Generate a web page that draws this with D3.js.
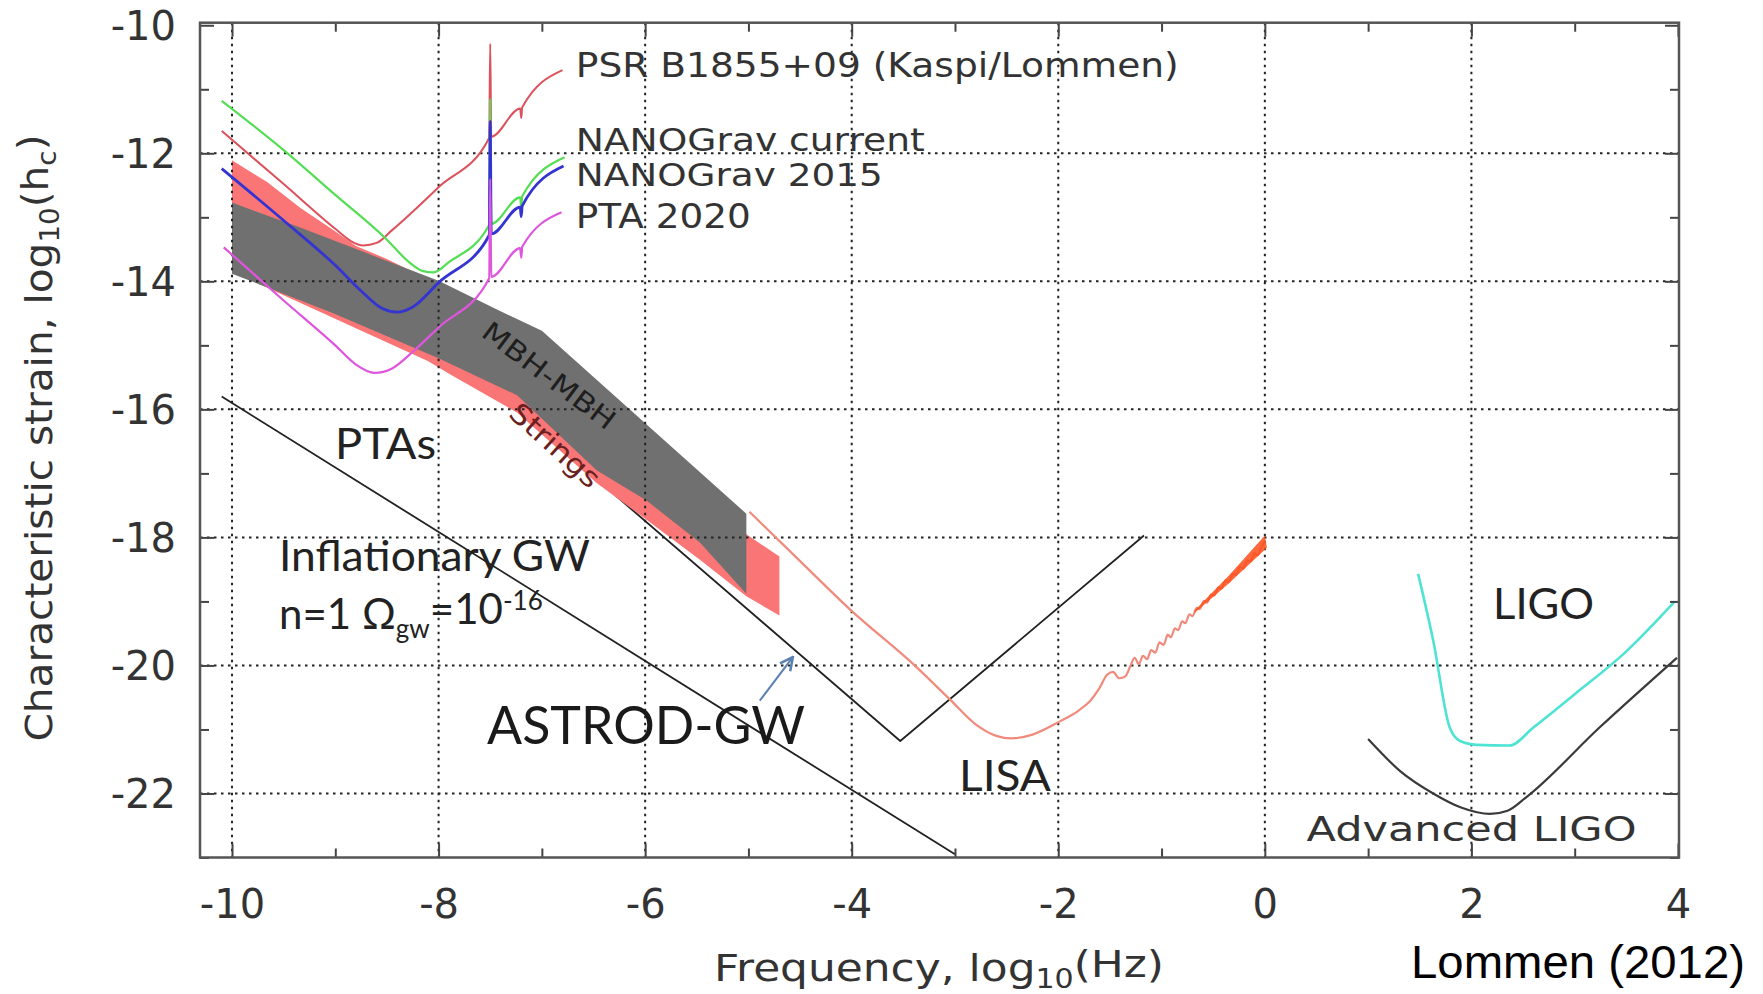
<!DOCTYPE html>
<html>
<head>
<meta charset="utf-8">
<script src="https://cdn.jsdelivr.net/npm/d3@7"></script>
<style>
  body { margin: 0; background: #fff; }
  svg { display: block; }
</style>
</head>
<body>
<div id="container"></div>
<script>
/* DATA (log10 frequency, log10 strain) */
var xTickLabels = [-10, -8, -6, -4, -2, 0, 2, 4];
var yTickLabels = [-10, -12, -14, -16, -18, -20, -22];
var xMinor = [-9, -7, -5, -3, -1, 1, 3];
var yMinor = [-11, -13, -15, -17, -19, -21, -23];
var xGrid = [-10, -8, -6, -4, -2, 0, 2];
var yGrid = [-12, -14, -16, -18, -20, -22];

var psrB1855 = [[-10.1,-11.65],[-9.5,-12.48],[-9.0,-13.18],[-8.85,-13.37],[-8.73,-13.44],[-8.6,-13.4],[-8.45,-13.2],[-8.0,-12.53],[-7.51,-11.76],[-7.5,-10.29],[-7.49,-11.74],[-7.21,-11.3],[-7.2,-11.45],[-7.19,-11.28],[-6.8,-10.7]];
var nanoCurrent = [[-10.1,-11.18],[-9.5,-11.95],[-9.0,-12.65],[-8.5,-13.35],[-8.3,-13.68],[-8.15,-13.84],[-8.05,-13.86],[-7.9,-13.7],[-7.51,-13.12],[-7.5,-11.15],[-7.49,-13.1],[-7.21,-12.69],[-7.2,-12.84],[-7.19,-12.67],[-6.78,-12.06]];
var nano2015 = [[-10.1,-12.24],[-9.5,-13.05],[-9.0,-13.75],[-8.75,-14.15],[-8.55,-14.42],[-8.4,-14.48],[-8.25,-14.4],[-8.0,-14.02],[-7.51,-13.28],[-7.5,-11.5],[-7.49,-13.26],[-7.21,-12.84],[-7.2,-12.99],[-7.19,-12.82],[-6.79,-12.2]];
var pta2020 = [[-10.08,-13.47],[-9.5,-14.3],[-9.0,-15.0],[-8.8,-15.3],[-8.62,-15.43],[-8.45,-15.36],[-8.25,-15.1],[-8.0,-14.72],[-7.51,-13.95],[-7.5,-12.4],[-7.49,-13.93],[-7.21,-13.48],[-7.2,-13.63],[-7.19,-13.46],[-6.81,-12.92]];

var stringsUpper = [[-10,-12.11],[-9.66,-12.45],[-9.34,-12.85],[-9.02,-13.2],[-8.8,-13.45],[-8.5,-13.65],[-7.0,-14.85],[-5.02,-17.95],[-4.70,-18.3]];
var stringsLower = [[-4.70,-19.22],[-5.02,-18.92],[-5.47,-18.35],[-5.99,-17.72],[-6.47,-17.15],[-7.24,-16.05],[-7.89,-15.45],[-8.1,-15.25],[-10,-13.85]];
var mbhUpper = [[-10,-12.77],[-9.34,-13.16],[-8.76,-13.52],[-8.0,-13.99],[-7.41,-14.46],[-7.0,-14.77],[-5.02,-17.63]];
var mbhLower = [[-5.02,-18.88],[-5.47,-18.08],[-5.99,-17.42],[-6.47,-16.95],[-7.24,-15.78],[-8.0,-15.2],[-9.02,-14.5],[-10,-13.88]];

var inflationary = [[-10.1,-15.8],[-3.0,-22.95]];
var astrodGW = [[-6.7,-16.77],[-3.53,-21.18],[-1.17,-17.97]];
var astrodArrow = [[-4.89,-20.55],[-4.57,-19.87]];

var lisa = [[-4.99,-17.6],[-4.5,-18.37],[-4.02,-19.12],[-3.37,-20.03],[-3.05,-20.53],[-2.8,-20.92],[-2.6,-21.1],[-2.45,-21.14],[-2.25,-21.08],[-1.98,-20.87],[-1.8,-20.7],[-1.69,-20.55],[-1.6,-20.35],[-1.53,-20.15],[-1.47,-20.1],[-1.41,-20.2],[-1.35,-20.17],[-1.3,-20.0],
  [-1.26,-19.88],[-1.22,-19.98],[-1.18,-19.85],[-1.14,-19.9],[-1.10,-19.76],[-1.06,-19.8],[-1.02,-19.64],[-0.98,-19.68],[-0.94,-19.52],[-0.91,-19.56],[-0.87,-19.42],[-0.84,-19.45],[-0.80,-19.31],[-0.77,-19.34],[-0.73,-19.2],[-0.70,-19.23],[-0.66,-19.1],[-0.63,-19.12],[-0.59,-18.99],[-0.56,-19.02],[-0.52,-18.89],[-0.49,-18.91],[-0.45,-18.78],[-0.42,-18.8],[-0.38,-18.67],[-0.35,-18.7],[-0.31,-18.57],[-0.28,-18.59],[-0.24,-18.46],[-0.21,-18.49],[-0.17,-18.36],[-0.14,-18.38],[-0.10,-18.25],[-0.07,-18.28],[-0.03,-18.14],[0.0,-18.05]];
var lisaDenseUpper = [[-0.68,-19.14],[-0.35,-18.6],[0.0,-17.97]];
var lisaDenseLower = [[0.02,-18.16],[-0.35,-18.72],[-0.68,-19.18]];

var ligo = [[1.484,-18.57],[1.63,-19.61],[1.79,-20.97],[1.89,-21.18],[2.05,-21.24],[2.37,-21.25],[2.6,-20.97],[3.0,-20.45],[3.5,-19.78],[3.97,-19.0]];
var advLigo = [[1.0,-21.15],[1.31,-21.65],[1.63,-22.0],[1.9,-22.22],[2.18,-22.32],[2.35,-22.27],[2.53,-22.06],[3.24,-20.97],[3.99,-19.88]];

// annotation text: [text, x, y, width, font size]
var gnuLabels = [
  ["PSR B1855+09 (Kaspi/Lommen)", -6.672, -10.624, 603, 34],
  ["NANOGrav current", -6.672, -11.783, 349, 32],
  ["NANOGrav 2015", -6.672, -12.328, 307, 32],
  ["PTA 2020", -6.672, -12.978, 175, 34],
  ["Advanced LIGO", 0.404, -22.555, 330, 34]
];
var slideLabels = [
  ["PTAs", -9.003, -16.541, 101],
  ["Inflationary GW", -9.545, -18.283, 311],
  ["LISA", -2.961, -21.727, 92],
  ["LIGO", 2.21, -19.04, 101]
];

/* CHART */
var W = 1763, H = 994;
var gnuFont = "'DejaVu Sans', sans-serif";
var slideFont = "Lato, 'Open Sans', sans-serif";

var svg = d3.select("#container").append("svg")
  .attr("width", W).attr("height", H);

var x = d3.scaleLinear().domain([-10.31, 4.01]).range([200, 1679]);
var y = d3.scaleLinear().domain([-23, -9.96]).range([857.5, 22.7]);

var smooth = d3.line().x(d => x(d[0])).y(d => y(d[1])).curve(d3.curveMonotoneX);
var straight = d3.line().x(d => x(d[0])).y(d => y(d[1]));
var polygon = d3.line().x(d => x(d[0])).y(d => y(d[1])).curve(d3.curveLinearClosed);

svg.append("clipPath").attr("id", "plotclip")
  .append("rect")
  .attr("x", x.range()[0]).attr("y", y.range()[1])
  .attr("width", x.range()[1] - x.range()[0])
  .attr("height", y.range()[0] - y.range()[1]);

var defs = svg.append("defs");
defs.append("marker")
  .attr("id", "arrow")
  .attr("viewBox", "0 0 10 10")
  .attr("refX", 9).attr("refY", 5)
  .attr("markerWidth", 8).attr("markerHeight", 8)
  .attr("orient", "auto")
  .append("path")
  .attr("d", "M1,1 L9,5 L1,9")
  .attr("fill", "none")
  .attr("stroke", "#5b80b2")
  .attr("stroke-width", 1.6);

var plot = svg.append("g").attr("clip-path", "url(#plotclip)");

// black ASTROD-GW curve sits under the strings band
plot.append("path").datum(astrodGW)
  .attr("d", straight).attr("fill", "none")
  .attr("stroke", "#222").attr("stroke-width", 1.8);

// bands
plot.append("path").datum(stringsUpper.concat(stringsLower))
  .attr("d", polygon).attr("fill", "#fa7575");
plot.append("path").datum(mbhUpper.concat(mbhLower))
  .attr("d", polygon).attr("fill", "#707070");

// grid
plot.append("g").selectAll("line").data(xGrid).join("line")
  .attr("x1", d => x(d)).attr("x2", d => x(d))
  .attr("y1", y.range()[1]).attr("y2", y.range()[0])
  .attr("stroke", "#222").attr("stroke-width", 2)
  .attr("stroke-dasharray", "2.5,4.5");
plot.append("g").selectAll("line").data(yGrid).join("line")
  .attr("x1", x.range()[0]).attr("x2", x.range()[1])
  .attr("y1", d => y(d)).attr("y2", d => y(d))
  .attr("stroke", "#222").attr("stroke-width", 2)
  .attr("stroke-dasharray", "2.5,4.5");

// inflationary GW
plot.append("path").datum(inflationary)
  .attr("d", straight).attr("fill", "none")
  .attr("stroke", "#222").attr("stroke-width", 1.8);

// PTA sensitivity curves
var ptaCurves = [
  [psrB1855, "#dc525c", 2],
  [nanoCurrent, "#55de55", 2.2],
  [nano2015, "#3434d2", 2.8],
  [pta2020, "#de55de", 2.2]
];
ptaCurves.forEach(function(c) {
  plot.append("path").datum(c[0])
    .attr("d", smooth).attr("fill", "none")
    .attr("stroke", c[1]).attr("stroke-width", c[2])
    .attr("stroke-linejoin", "round");
});

// LISA
plot.append("path").datum(lisa)
  .attr("d", smooth).attr("fill", "none")
  .attr("stroke", "#f08a7c").attr("stroke-width", 2.2);
plot.append("path").datum(lisaDenseUpper.concat(lisaDenseLower))
  .attr("d", polygon).attr("fill", "#ff4d1a").attr("opacity", 0.85);

// LIGO
plot.append("path").datum(ligo)
  .attr("d", smooth).attr("fill", "none")
  .attr("stroke", "#4fe3d3").attr("stroke-width", 2.6);
plot.append("path").datum(advLigo)
  .attr("d", smooth).attr("fill", "none")
  .attr("stroke", "#3a3a3a").attr("stroke-width", 2.2);

// arrow to ASTROD-GW
svg.append("path").datum(astrodArrow)
  .attr("d", straight).attr("fill", "none")
  .attr("stroke", "#5b80b2").attr("stroke-width", 2)
  .attr("marker-end", "url(#arrow)");

// frame and ticks
function styleAxis(g) {
  g.select(".domain").remove();
  g.selectAll(".tick line").attr("stroke", "#444").attr("stroke-width", 2);
  g.selectAll(".tick text")
    .attr("fill", "#333")
    .style("font-family", gnuFont)
    .style("font-size", "40px");
}
var x0 = x.range()[0], x1 = x.range()[1], yB = y.range()[0], yT = y.range()[1];
var plain = d => String(d);

svg.append("g").attr("transform", "translate(0," + yB + ")")
  .call(d3.axisBottom(x).tickValues(xTickLabels).tickSize(-14).tickPadding(32).tickFormat(plain))
  .call(styleAxis)
  .selectAll(".tick text").attr("dy", "0.71em");
svg.append("g").attr("transform", "translate(0," + yB + ")")
  .call(d3.axisBottom(x).tickValues(xMinor).tickSize(-9).tickFormat(""))
  .call(styleAxis);
svg.append("g").attr("transform", "translate(0," + yT + ")")
  .call(d3.axisTop(x).tickValues(xTickLabels).tickSize(-14).tickFormat(""))
  .call(styleAxis);
svg.append("g").attr("transform", "translate(0," + yT + ")")
  .call(d3.axisTop(x).tickValues(xMinor).tickSize(-9).tickFormat(""))
  .call(styleAxis);

svg.append("g").attr("transform", "translate(" + x0 + ",0)")
  .call(d3.axisLeft(y).tickValues(yTickLabels).tickSize(-14).tickPadding(24).tickFormat(plain))
  .call(styleAxis)
  .selectAll(".tick text").attr("dy", "0.36em");
svg.append("g").attr("transform", "translate(" + x0 + ",0)")
  .call(d3.axisLeft(y).tickValues(yMinor).tickSize(-9).tickFormat(""))
  .call(styleAxis);
svg.append("g").attr("transform", "translate(" + x1 + ",0)")
  .call(d3.axisRight(y).tickValues(yTickLabels).tickSize(-14).tickFormat(""))
  .call(styleAxis);
svg.append("g").attr("transform", "translate(" + x1 + ",0)")
  .call(d3.axisRight(y).tickValues(yMinor).tickSize(-9).tickFormat(""))
  .call(styleAxis);

svg.append("rect")
  .attr("x", x0).attr("y", yT)
  .attr("width", x1 - x0).attr("height", yB - yT)
  .attr("fill", "none").attr("stroke", "#555").attr("stroke-width", 2.5);

// axis titles
var yTitle = svg.append("text")
  .attr("transform", "translate(38,438) rotate(-90)")
  .attr("text-anchor", "middle")
  .attr("dy", "0.36em")
  .attr("textLength", 607).attr("lengthAdjust", "spacingAndGlyphs")
  .attr("fill", "#333")
  .style("font-family", gnuFont).style("font-size", "38px");
yTitle.append("tspan").text("Characteristic strain, log");
yTitle.append("tspan").attr("dy", "0.3em").style("font-size", "26px").text("10");
yTitle.append("tspan").attr("dy", "-0.3em").text("(h");
yTitle.append("tspan").attr("dy", "0.3em").style("font-size", "26px").text("c");
yTitle.append("tspan").attr("dy", "-0.3em").text(")");

var xTitle = svg.append("text")
  .attr("x", 939).attr("y", 967)
  .attr("text-anchor", "middle")
  .attr("dy", "0.36em")
  .attr("textLength", 450).attr("lengthAdjust", "spacingAndGlyphs")
  .attr("fill", "#333")
  .style("font-family", gnuFont).style("font-size", "38px");
xTitle.append("tspan").text("Frequency, log");
xTitle.append("tspan").attr("dy", "0.3em").style("font-size", "26px").text("10");
xTitle.append("tspan").attr("dy", "-0.3em").text("(Hz)");

// annotations
svg.selectAll(".gnulabel").data(gnuLabels).join("text")
  .attr("class", "gnulabel")
  .attr("x", d => x(d[1])).attr("y", d => y(d[2]))
  .attr("dy", "0.36em")
  .attr("textLength", d => d[3]).attr("lengthAdjust", "spacingAndGlyphs")
  .attr("fill", "#333")
  .style("font-family", gnuFont).style("font-size", d => d[4] + "px")
  .text(d => d[0]);

svg.selectAll(".slidelabel").data(slideLabels).join("text")
  .attr("class", "slidelabel")
  .attr("x", d => x(d[1])).attr("y", d => y(d[2]))
  .attr("dy", "0.36em")
  .attr("textLength", d => d[3]).attr("lengthAdjust", "spacingAndGlyphs")
  .attr("fill", "#222")
  .style("font-family", slideFont).style("font-size", "42px")
  .text(d => d[0]);

var omega = svg.append("text")
  .attr("x", x(-9.545)).attr("y", y(-19.2))
  .attr("dy", "0.36em")
  .attr("fill", "#222")
  .style("font-family", slideFont).style("font-size", "42px");
omega.append("tspan").text("n=1 \u03A9");
omega.append("tspan").attr("dy", "0.32em").style("font-size", "26px").text("gw");
omega.append("tspan").attr("dy", "-0.32em").text("=10");
omega.append("tspan").attr("dy", "-0.55em").style("font-size", "26px").text("-16");

svg.append("text")
  .attr("x", x(-7.531)).attr("y", y(-20.93))
  .attr("dy", "0.36em")
  .attr("textLength", 318).attr("lengthAdjust", "spacingAndGlyphs")
  .attr("fill", "#1a1a1a")
  .style("font-family", slideFont).style("font-size", "53px")
  .text("ASTROD-GW");

svg.append("text")
  .attr("transform", "translate(" + x(-6.93) + "," + y(-15.47) + ") rotate(37)")
  .attr("text-anchor", "middle").attr("dy", "0.36em")
  .attr("textLength", 159).attr("lengthAdjust", "spacingAndGlyphs")
  .attr("fill", "#1e1e1e")
  .style("font-family", gnuFont).style("font-size", "27px")
  .text("MBH-MBH");

svg.append("text")
  .attr("transform", "translate(" + x(-6.87) + "," + y(-16.56) + ") rotate(42)")
  .attr("text-anchor", "middle").attr("dy", "0.36em")
  .attr("textLength", 111).attr("lengthAdjust", "spacingAndGlyphs")
  .attr("fill", "#6b1f1f")
  .style("font-family", gnuFont).style("font-size", "28px")
  .text("Strings");

svg.append("text")
  .attr("x", 1411).attr("y", 961)
  .attr("dy", "0.36em")
  .attr("textLength", 334).attr("lengthAdjust", "spacingAndGlyphs")
  .attr("fill", "#000")
  .style("font-family", "'Liberation Sans', Arial, sans-serif").style("font-size", "46px")
  .text("Lommen (2012)");
</script>
</body>
</html>
